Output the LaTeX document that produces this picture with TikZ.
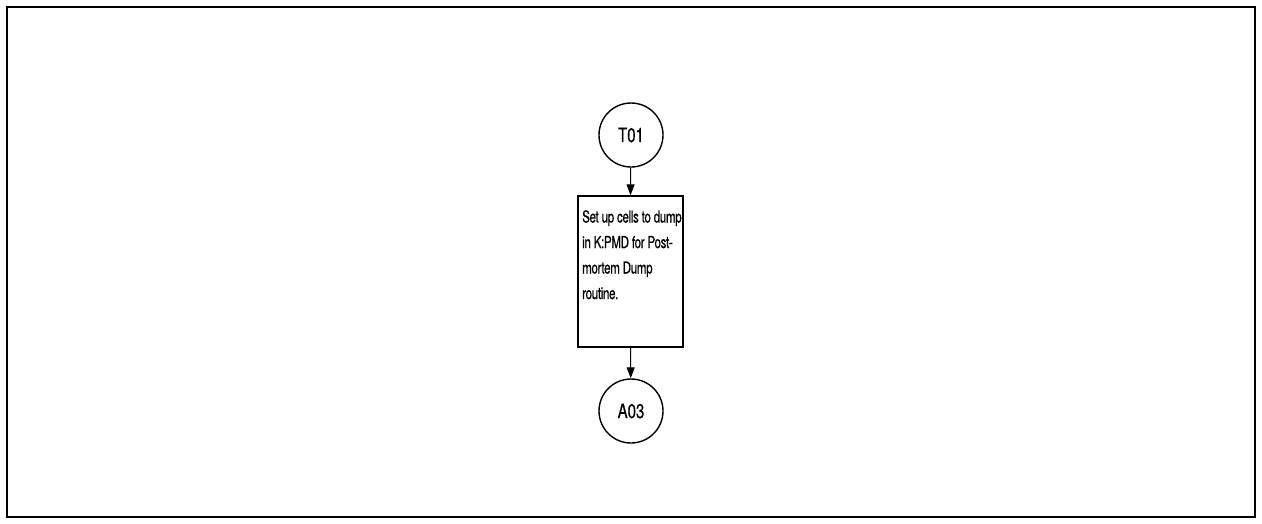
\documentclass[tikz,border=0pt]{standalone}
\usepackage{fontspec}
\setmainfont{TeX Gyre Heros}[FakeStretch=0.7,FakeBold=0.6,LetterSpace=-2]
\newfontfamily\connfont{TeX Gyre Heros}[FakeStretch=0.75,FakeBold=0.6]
\usetikzlibrary{arrows.meta}
\begin{document}
\begin{tikzpicture}[x=1pt,y=-1pt,
  conn/.style={circle,draw,line width=1.4pt,minimum size=64pt,inner sep=0pt,font=\connfont\fontsize{20}{22}\selectfont},
  procbox/.style={draw,line width=1.4pt,minimum width=105pt,minimum height=151pt,inner sep=0pt},
  flow/.style={-{Triangle[length=11pt,width=8pt]},line width=1pt}]
\useasboundingbox (0,0) rectangle (1262,523);
\draw[line width=1.4pt] (7,7) rectangle (1255,517);
\node[conn] (t01) at (631,135) {T01};
\node[procbox] (box) at (630.5,271.5) {};
\node[anchor=north west,align=left,inner sep=0pt,font=\fontsize{16.5}{25.5}\selectfont] (txt) at (582,210)
  {Set up cells to dump\\in K:PMD for Post-\\mortem Dump\\routine.};
\node[conn] (a03) at (631,411) {A03};
\draw[flow] (t01) -- (box.north);
\draw[flow] (box.south) -- (a03);
\end{tikzpicture}
\end{document}
